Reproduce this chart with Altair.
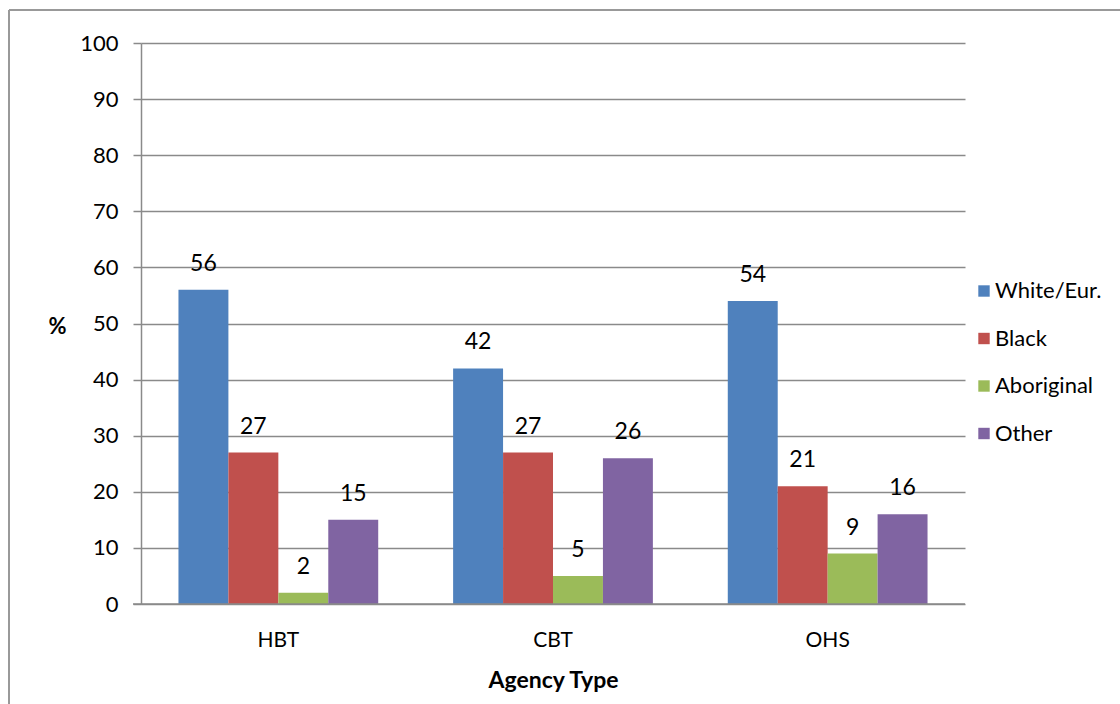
import altair as alt
import pandas as pd

# Share of clients by ethnic group for each agency type (%)
agencies = ["HBT", "CBT", "OHS"]
groups = ["White/Eur.", "Black", "Aboriginal", "Other"]
white_eur = [56, 42, 54]
black = [27, 27, 21]
aboriginal = [2, 5, 9]
other = [15, 26, 16]
colors = ["#4F81BD", "#C0504D", "#9BBB59", "#8064A2"]
y_ticks = [0, 10, 20, 30, 40, 50, 60, 70, 80, 90, 100]

series = dict(zip(groups, [white_eur, black, aboriginal, other]))
rows = []
for g in groups:
    for a, v in zip(agencies, series[g]):
        rows.append({"agency": a, "group": g, "pct": v, "order": groups.index(g)})
df = pd.DataFrame(rows)

FONT = "Lato"
W, H = 824, 561
LEFT, TOP = 141, 43

x_enc = alt.X(
    "agency:N",
    sort=agencies,
    scale=alt.Scale(paddingInner=0.2727, paddingOuter=0.1364),
    axis=alt.Axis(
        title="Agency Type",
        titleFont=FONT, titleFontSize=23, titleFontWeight="bold", titleColor="#000",
        titleY=76, titleBaseline="middle",
        labelFont=FONT, labelFontSize=21, labelColor="#000", labelAngle=0,
        labelPadding=36, labelBaseline="middle",
        ticks=False, domain=False, grid=False,
    ),
)
y_enc = alt.Y(
    "pct:Q",
    scale=alt.Scale(domain=[0, 100], nice=False),
    axis=alt.Axis(
        values=y_ticks,
        title="%",
        titleFont=FONT, titleFontSize=22, titleFontWeight="bold", titleColor="#000",
        titleAngle=0, titleX=-84, titleY=283, titleAlign="center", titleBaseline="middle",
        labelFont=FONT, labelFontSize=22, labelColor="#000", labelPadding=15,
        tickSize=8, tickColor="#8a8a8a", tickWidth=1.5,
        domain=True, domainColor="#8a8a8a", domainWidth=1.5,
        grid=True, gridColor="#8a8a8a", gridWidth=1.5,
    ),
)
xoff = alt.XOffset("group:N", sort=groups, scale=alt.Scale(paddingInner=0, paddingOuter=0))

bars = alt.Chart(df).mark_bar().encode(
    x=x_enc,
    xOffset=xoff,
    y=y_enc,
    color=alt.Color(
        "group:N",
        sort=groups,
        scale=alt.Scale(domain=groups, range=colors),
        legend=alt.Legend(
            title=None, orient="none", legendX=832, legendY=237,
            symbolType="square", symbolSize=130, symbolStrokeWidth=0,
            labelFont=FONT, labelFontSize=22, labelColor="#000",
            rowPadding=25.5, labelOffset=0,
        ),
    ),
)

labels = alt.Chart(df).mark_text(
    font=FONT, fontSize=23, color="#000", baseline="middle", dy=-26
).encode(
    x=alt.X("agency:N", sort=agencies),
    xOffset=alt.XOffset("group:N", sort=groups),
    y="pct:Q",
    text=alt.Text("pct:Q", format=".0f"),
)

# x-axis baseline drawn across the plot area at zero
baseline = alt.Chart(pd.DataFrame({"pct": [0]})).mark_rule(
    color="#8a8a8a", strokeWidth=1.5
).encode(y="pct:Q", x=alt.value(-8), x2=alt.value(W))

# outer chart frame (left and top edges)
one = pd.DataFrame({"k": [0]})
frame_left = alt.Chart(one).mark_rule(color="#999999", strokeWidth=2).encode(
    x=alt.value(9 - LEFT), y=alt.value(10 - TOP), y2=alt.value(704 - TOP + 5)
)
frame_top = alt.Chart(one).mark_rule(color="#999999", strokeWidth=2).encode(
    x=alt.value(9 - LEFT), x2=alt.value(1120 - LEFT + 5), y=alt.value(10 - TOP)
)

chart = (
    alt.layer(bars, baseline, labels, frame_left, frame_top)
    .properties(
        width=W, height=H,
        autosize=alt.AutoSizeParams(type="none"),
        padding={"left": LEFT, "top": TOP, "right": 1120 - LEFT - W, "bottom": 704 - TOP - H},
        background="white",
    )
    .configure_view(stroke=None)
    .configure_scale(bandPaddingInner=0)
)

chart.save("out.html", embed_options={"renderer": "svg", "actions": False})
